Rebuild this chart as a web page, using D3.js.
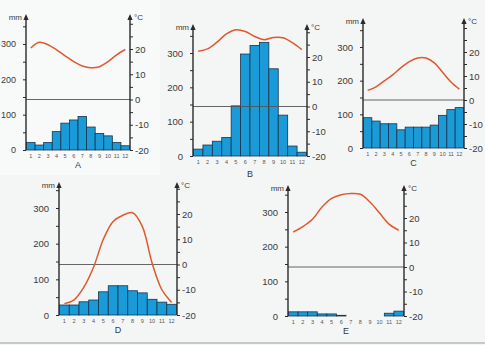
<!DOCTYPE html>
<html><head><meta charset="utf-8">
<script src="https://cdn.jsdelivr.net/npm/d3@7"></script>
<style>
body{margin:0;background:#fff}
svg{display:block}
text{font-family:"Liberation Sans",Arial,sans-serif}
</style>
</head><body>
<svg id="chart" width="485" height="345"></svg>
<script>
// ---- data ----
const months = ["1","2","3","4","5","6","7","8","9","10","11","12"];
const rainTicks = [0,100,200,300];
const tempTicks = [-20,-10,0,10,20];
const rainA = [21,14,21,52,76,85,95,65,47,40,21,12];
const tempA = [20.4,22.7,21.7,19.7,17.3,15,13.3,12.6,13,15,17.7,19.8];
const rainB = [20,32,43,54,146,297,322,331,254,119,29,11];
const tempB = [22.3,23.3,26,29.3,31,30.3,28.3,27,27.9,27.8,25.8,23];
const rainC = [90,80,72,72,54,62,62,62,68,97,114,120];
const tempC = [4,5.5,8,10.5,13.5,16,17.5,17.5,15.5,11.5,7.5,4.5];
const rainD = [28,28,37,42,65,82,82,68,62,44,36,30];
const tempD = [-15.5,-14,-9,-1,10,17,19.5,20.5,15,0.5,-10,-15];
const rainE = [12,12,12,6,6,2,0,0,0,0,8,14];
const tempE = [14.3,16.5,19.5,24.5,28,29.5,30,29.7,26.5,22,17.5,15];
const panelNames = ["A","B","C","D","E"];

// ---- layout (positions only) ----
const layout = [
  {x0:26,  x1:130, yb:150, y300:44,  y20:49,  top:14},
  {x0:193, x1:307, yb:156, y300:53,  y20:57,  top:24},
  {x0:363, x1:464, yb:148, y300:47,  y20:52,  top:18},
  {x0:59,  x1:177, yb:315, y300:208, y20:214, top:182},
  {x0:288, x1:404, yb:316, y300:212, y20:218, top:185}
];
const rains = [rainA,rainB,rainC,rainD,rainE];
const temps = [tempA,tempB,tempC,tempD,tempE];

const svg = d3.select("#chart");
svg.append("rect").attr("width",485).attr("height",345).attr("fill","#f4f5f5");
svg.append("rect").attr("x",0).attr("y",0).attr("width",160).attr("height",175).attr("fill","#f8f9f9");
svg.append("line").attr("x1",0).attr("x2",485).attr("y1",343).attr("y2",343).attr("stroke","#b8b8b8").attr("stroke-width",1.5);

const axisCol = "#2a2a2a", textCol = "#3a3a3a";

panelNames.forEach((name,i)=>{
  const L = layout[i];
  const g = svg.append("g");
  const x = d3.scaleBand().domain(months).range([L.x0+0.5, L.x1-0.5]).padding(0);
  const yR = d3.scaleLinear().domain([0,300]).range([L.yb, L.y300]);
  const yT = d3.scaleLinear().domain([-20,20]).range([L.yb, L.y20]);

  // bars
  g.selectAll("rect.bar").data(rains[i]).join("rect")
    .attr("class","bar")
    .attr("x",(d,j)=>x(months[j]))
    .attr("width",x.bandwidth())
    .attr("y",d=>yR(d))
    .attr("height",d=>L.yb-yR(d))
    .attr("fill","#1a9bd8").attr("stroke","#17344f").attr("stroke-width",0.8);

  // zero line
  g.append("line").attr("x1",L.x0).attr("x2",L.x1)
    .attr("y1",yT(0)).attr("y2",yT(0)).attr("stroke","#555").attr("stroke-width",0.9);

  // temp line
  const line = d3.line()
    .x((d,j)=>x(months[j])+x.bandwidth()/2)
    .y(d=>yT(d)).curve(d3.curveCatmullRom.alpha(0.5));
  g.append("path").datum(temps[i]).attr("d",line)
    .attr("fill","none").attr("stroke","#e0582e").attr("stroke-width",1.5);

  // left axis
  const rainMinor = d3.range(0,351,50).filter(v=>yR(v)>L.top+4);
  const la = d3.axisLeft(yR).tickValues(rainMinor).tickSize(3).tickPadding(7)
    .tickFormat(d=>rainTicks.includes(d)?d:"");
  const lg = g.append("g").attr("transform",`translate(${L.x0},0)`).call(la);
  lg.select(".domain").remove();
  lg.selectAll(".tick line").attr("stroke",axisCol);
  lg.selectAll("text").attr("font-size",i===0?9:9.5).attr("fill",textCol);

  // right axis
  const tempMinor = d3.range(-20,31,5).filter(v=>yT(v)>L.top+4);
  const ra = d3.axisRight(yT).tickValues(tempMinor).tickSize(3).tickPadding(2)
    .tickFormat(d=>tempTicks.includes(d)?d:"");
  const rg = g.append("g").attr("transform",`translate(${L.x1},0)`).call(ra);
  rg.select(".domain").remove();
  rg.selectAll(".tick line").attr("stroke",axisCol);
  rg.selectAll("text").attr("font-size",9.5).attr("fill",textCol);

  // axis lines with arrows
  [L.x0,L.x1].forEach(ax=>{
    g.append("line").attr("x1",ax).attr("x2",ax).attr("y1",L.yb).attr("y2",L.top+4)
      .attr("stroke",axisCol).attr("stroke-width",1.4);
    g.append("path").attr("d",`M${ax-2.6},${L.top+6}L${ax},${L.top}L${ax+2.6},${L.top+6}Z`)
      .attr("fill",axisCol);
  });
  g.append("text").attr("x",L.x0-4).attr("y",L.top+6).attr("text-anchor","end")
    .attr("font-size",8).attr("fill",textCol).text("mm");
  g.append("text").attr("x",L.x1+4).attr("y",L.top+6)
    .attr("font-size",8).attr("fill",textCol).text("°C");

  // month labels
  g.selectAll("text.m").data(months).join("text").attr("class","m")
    .attr("x",d=>x(d)+x.bandwidth()/2).attr("y",L.yb+8)
    .attr("text-anchor","middle").attr("font-size",5.5).attr("fill","#555").text(d=>d);

  // panel letter
  g.append("text").attr("x",(L.x0+L.x1)/2).attr("y",L.yb+ (i===1?21:18))
    .attr("text-anchor","middle").attr("font-size",9).attr("fill",textCol).text(name);
});
</script>
</body></html>
